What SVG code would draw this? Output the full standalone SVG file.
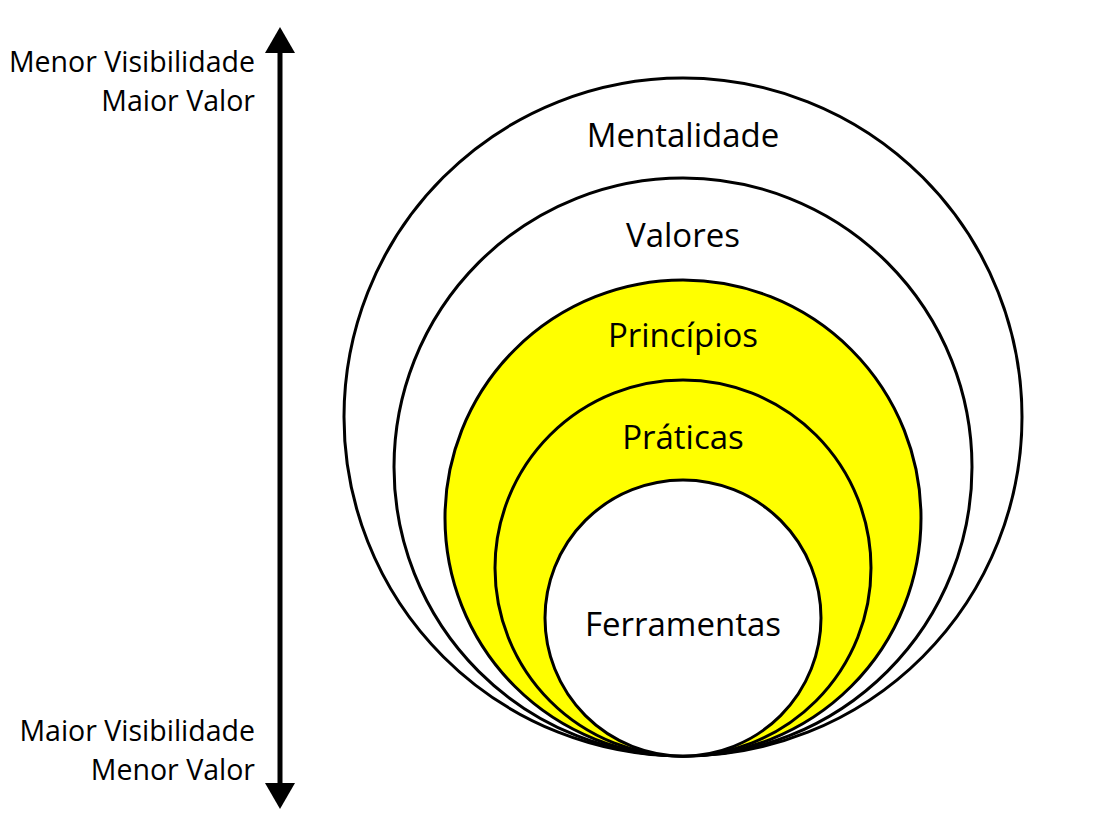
<svg xmlns="http://www.w3.org/2000/svg" width="1101" height="836" viewBox="0 0 1101 836">
<style>
.c{stroke:#000;stroke-width:3}
.w{fill:#fff}
.y{fill:#ffff00}
text{font-family:"Open Sans","Noto Sans",sans-serif;fill:#000}
.lbl{font-size:33px;text-anchor:middle}
.side{font-size:28.5px;text-anchor:end}
</style>
<rect width="1101" height="836" fill="#fff"/>
<g id="connectors">
<line x1="280" y1="50" x2="280" y2="786" stroke="#000" stroke-width="5"/>
<polygon points="280,27 265,53 295,53" fill="#000"/>
<polygon points="280,809 265,783 295,783" fill="#000"/>
</g>
<g id="mentalidade"><circle class="c w" cx="683" cy="417" r="339"/><text class="lbl" x="683" y="147">Mentalidade</text></g>
<g id="valores"><circle class="c w" cx="683" cy="467" r="289"/><text class="lbl" x="683" y="247">Valores</text></g>
<g id="principios"><circle class="c y" cx="683" cy="518" r="238"/><text class="lbl" x="683" y="347">Princípios</text></g>
<g id="praticas"><circle class="c y" cx="683" cy="568" r="188"/><text class="lbl" x="683" y="449">Práticas</text></g>
<g id="ferramentas"><circle class="c w" cx="683" cy="618" r="138"/><text class="lbl" x="683" y="636">Ferramentas</text></g>
<g id="top-label"><text class="side" x="255" y="72">Menor Visibilidade</text><text class="side" x="255" y="111">Maior Valor</text></g>
<g id="bottom-label"><text class="side" x="255" y="741">Maior Visibilidade</text><text class="side" x="255" y="780">Menor Valor</text></g>
</svg>
